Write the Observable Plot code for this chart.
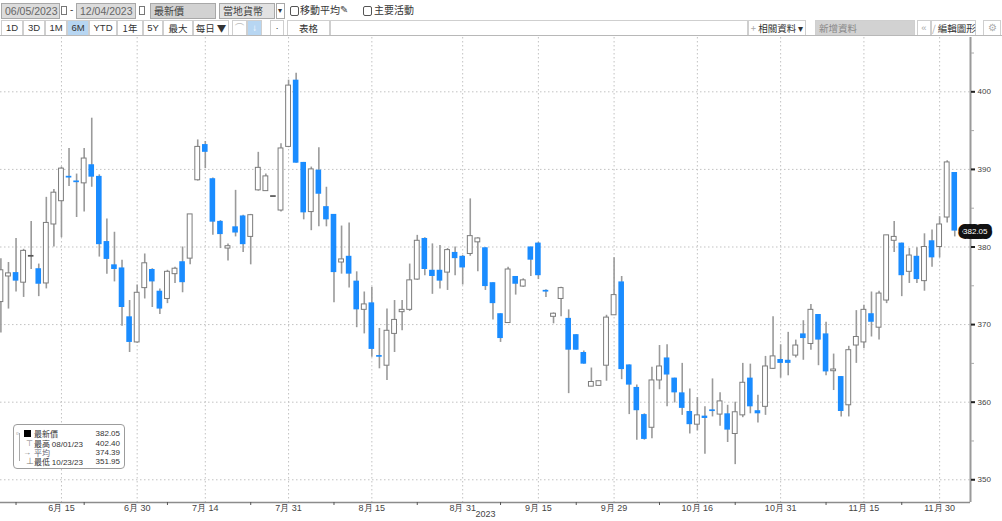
<!DOCTYPE html>
<html><head><meta charset="utf-8">
<script src="https://cdn.jsdelivr.net/npm/d3@7"></script>
<script src="https://cdn.jsdelivr.net/npm/@observablehq/plot@0.6"></script>
<style>
body{margin:0;width:1002px;height:521px;overflow:hidden;background:#fff;position:relative;font-family:"Liberation Sans","Noto Sans CJK TC",sans-serif}
.el{position:absolute;box-sizing:border-box;white-space:nowrap;color:#333;font-size:10px;font-family:"Liberation Sans","Noto Sans CJK TC",sans-serif}
.r1{top:3px;height:16px;line-height:14px}
.box{border:1px solid #a8a8a8;padding-left:3px}
.btn{top:20px;height:16px;line-height:14px;border:1px solid #cfcfcf;text-align:center;background:#fff;font-size:9.5px;color:#333}
.cjk{font-family:"Noto Sans CJK TC",sans-serif}
#chart{position:absolute;left:0;top:37px}
#legend{position:absolute;left:13px;top:424px;width:112px;height:45px;border:1px solid #9c9c9c;border-radius:4px;background:#fff;box-sizing:border-box}
#legend .lr{position:absolute;left:0;width:110px;height:9px;line-height:9px;font-size:8px;color:#333}
#legend .lab{position:absolute;left:20px;font-family:"Noto Sans CJK TC",sans-serif}
#legend .val{position:absolute;right:4px}
#legend .ic{position:absolute;font-size:8px;color:#777}
</style></head>
<body>
<div id="bar">
  <div class="el r1 box" style="left:1px;width:59px;background:#dcdcdc;color:#666;font-size:10.5px">06/05/2023</div>
  <div class="el" style="left:61px;top:6px;width:6px;height:9px;border:1px solid #777"></div>
  <div class="el r1" style="left:70px;color:#444">-</div>
  <div class="el r1 box" style="left:76px;width:60px;background:#dcdcdc;color:#666;font-size:10.5px">12/04/2023</div>
  <div class="el" style="left:139px;top:6px;width:6px;height:9px;border:1px solid #777"></div>
  <div class="el r1 box cjk" style="left:150px;width:66px;background:#d2d2d2;color:#444">最新價</div>
  <div class="el r1 box cjk" style="left:219px;width:56px;background:#e2e2e2;color:#444">當地貨幣</div>
  <div class="el r1 box" style="left:276px;width:9px;padding-left:1px;font-size:8px;color:#333;background:#fff">▾</div>
  <div class="el" style="left:290px;top:6px;width:9px;height:10px;border:1px solid #555;border-radius:2px"></div>
  <div class="el r1 cjk" style="left:300px;color:#333">移動平均</div>
  <div class="el r1" style="left:340px;color:#444;font-family:'DejaVu Sans'">✎</div>
  <div class="el" style="left:363px;top:6px;width:9px;height:10px;border:1px solid #555;border-radius:2px"></div>
  <div class="el r1 cjk" style="left:374px;color:#333">主要活動</div>

  <div class="el btn" style="left:1px;width:22px">1D</div>
  <div class="el btn" style="left:23px;width:22px">3D</div>
  <div class="el btn" style="left:45px;width:22px">1M</div>
  <div class="el btn" style="left:67px;width:22px;background:#b7d6f2">6M</div>
  <div class="el btn" style="left:89px;width:28px">YTD</div>
  <div class="el btn cjk" style="left:117px;width:26px">1年</div>
  <div class="el btn" style="left:143px;width:20px">5Y</div>
  <div class="el btn cjk" style="left:163px;width:30px">最大</div>
  <div class="el btn cjk" style="left:193px;width:36px">每日 ▼</div>
  <div class="el btn" style="left:232px;width:15px;color:#bbb">⌒</div>
  <div class="el btn" style="left:247px;width:15px;background:#b7d6f2;color:#fff">↓</div>
  <div class="el btn" style="left:270px;width:14px">·</div>
  <div class="el btn cjk" style="left:287px;width:43px">表格</div>
  <div class="el btn" style="left:330px;width:418px"></div>
  <div class="el btn cjk" style="left:748px;width:58px"><span style="color:#aaa">+</span> 相關資料 ▾</div>
  <div class="el btn cjk" style="left:815px;width:100px;background:#d2d2d2;color:#888;text-align:left;padding-left:3px">新增資料</div>
  <div class="el btn" style="left:917px;width:14px;color:#aaa">«</div>
  <div class="el btn cjk" style="left:931px;width:45px"><span style="color:#aaa">/</span> 編輯圖形</div>
  <div class="el btn" style="left:983px;width:18px;color:#aaa">⚙</div>
  <div class="el" style="left:0;top:35px;width:1002px;height:1px;background:#b8b8b8"></div>
</div>
<div id="chart"></div>
<div id="legend">
  <div class="el" style="left:5px;top:8px;width:1px;height:28px;background:#aaa"></div>
  <div class="lr" style="top:4px">
    <span class="ic" style="left:2px;top:0">▫</span>
    <span style="position:absolute;left:10px;top:1px;width:7px;height:7px;background:#000"></span>
    <span class="lab" id="lg1"></span><span class="val" id="lv1"></span></div>
  <div class="lr" style="top:13.5px"><span class="ic" style="left:12px">⊤</span>
    <span class="lab" id="lg2"></span><span class="val" id="lv2"></span></div>
  <div class="lr" style="top:22.5px"><span class="ic" style="left:9px">→</span>
    <span class="lab" id="lg3" style="color:#667"></span><span class="val" id="lv3"></span></div>
  <div class="lr" style="top:31.5px"><span class="ic" style="left:12px">⊥</span>
    <span class="lab" id="lg4"></span><span class="val" id="lv4"></span></div>
</div>
<script>
// ---- data ----
const dates = [
 "2023-06-05","2023-06-06","2023-06-07","2023-06-08","2023-06-09","2023-06-12","2023-06-13","2023-06-14","2023-06-15","2023-06-16",
 "2023-06-20","2023-06-21","2023-06-22","2023-06-23","2023-06-26","2023-06-27","2023-06-28","2023-06-29","2023-06-30",
 "2023-07-03","2023-07-05","2023-07-06","2023-07-07","2023-07-10","2023-07-11","2023-07-12","2023-07-13","2023-07-14",
 "2023-07-17","2023-07-18","2023-07-19","2023-07-20","2023-07-21","2023-07-24","2023-07-25","2023-07-26","2023-07-27","2023-07-28","2023-07-31",
 "2023-08-01","2023-08-02","2023-08-03","2023-08-04","2023-08-07","2023-08-08","2023-08-09","2023-08-10","2023-08-11",
 "2023-08-14","2023-08-15","2023-08-16","2023-08-17","2023-08-18","2023-08-21","2023-08-22","2023-08-23","2023-08-24","2023-08-25",
 "2023-08-28","2023-08-29","2023-08-30","2023-08-31",
 "2023-09-01","2023-09-05","2023-09-06","2023-09-07","2023-09-08","2023-09-11","2023-09-12","2023-09-13","2023-09-14","2023-09-15",
 "2023-09-18","2023-09-19","2023-09-20","2023-09-21","2023-09-22","2023-09-25","2023-09-26","2023-09-27","2023-09-28","2023-09-29",
 "2023-10-02","2023-10-03","2023-10-04","2023-10-05","2023-10-06","2023-10-09","2023-10-10","2023-10-11","2023-10-12","2023-10-13",
 "2023-10-16","2023-10-17","2023-10-18","2023-10-19","2023-10-20","2023-10-23","2023-10-24","2023-10-25","2023-10-26","2023-10-27",
 "2023-10-30","2023-10-31",
 "2023-11-01","2023-11-02","2023-11-03","2023-11-06","2023-11-07","2023-11-08","2023-11-09","2023-11-10",
 "2023-11-13","2023-11-14","2023-11-15","2023-11-16","2023-11-17","2023-11-20","2023-11-21","2023-11-22","2023-11-24",
 "2023-11-27","2023-11-28","2023-11-29","2023-11-30","2023-12-01","2023-12-04"];
const open = [372.9,376.2,376.7,375.4,378.8,377.2,375.3,382.9,385.9,389.1,
 388.5,388.2,390.6,389.1,380.7,377.7,377.3,371.0,367.7,
 374.7,377.1,374.3,373.3,376.5,378.1,378.5,388.6,393.2,
 388.8,383.3,379.8,382.6,384.0,381.3,387.3,387.2,386.5,384.7,392.9,
 401.5,390.9,384.5,389.9,385.2,384.2,378.0,378.8,375.6,
 371.9,372.8,366.0,364.7,368.8,371.6,371.9,375.8,381.1,377.0,
 377.0,376.7,379.3,378.8,
 379.1,380.6,379.9,375.4,371.4,370.2,376.2,374.9,380.0,380.5,
 374.4,371.0,373.3,370.8,368.7,366.4,362.0,362.1,364.7,371.2,
 375.5,364.8,361.9,358.4,356.7,362.8,365.7,363.1,361.2,358.8,
 357.1,358.2,359.0,358.4,358.5,355.9,358.3,363.1,358.9,359.4,
 364.3,365.5,
 365.4,366.0,368.8,367.5,371.3,368.8,364.0,363.3,
 359.6,367.3,367.7,371.4,369.6,373.1,380.8,380.5,376.8,
 378.8,375.6,380.8,380.0,383.8,389.6];
const high = [378.5,378.0,381.1,379.7,383.3,377.8,386.4,387.4,390.3,392.7,
 389.4,392.7,396.6,389.3,383.6,381.9,378.3,373.1,375.1,
 379.1,377.2,374.6,377.0,377.4,380.0,384.2,393.8,393.6,
 388.9,383.4,380.4,387.3,384.1,384.2,392.2,389.4,386.5,393.3,401.5,
 402.4,390.9,390.3,392.8,387.7,384.2,382.7,383.1,376.8,
 374.2,374.8,369.5,372.0,373.1,373.1,377.8,381.5,381.2,380.4,
 380.2,379.8,380.0,378.9,
 386.2,381.2,379.9,375.4,371.4,377.4,376.2,375.9,380.0,380.6,
 374.5,371.5,374.8,371.9,368.7,366.6,364.4,362.7,371.2,378.6,
 376.2,364.8,362.2,358.5,364.5,367.3,367.4,363.1,365.0,361.7,
 360.6,359.4,363.0,361.2,359.6,360.0,365.0,364.9,360.9,365.9,
 371.0,367.4,
 369.0,368.0,370.5,372.6,371.3,370.3,366.2,363.3,
 367.2,371.8,372.5,374.2,374.3,381.5,383.3,380.5,379.8,
 379.9,381.7,382.2,383.9,391.1,389.6];
const low = [368.9,372.0,374.2,373.5,377.1,373.6,374.6,380.0,381.2,387.8,
 383.8,384.5,387.7,378.7,376.5,375.5,369.8,366.4,367.6,
 373.3,372.2,371.3,372.7,375.3,374.1,377.7,388.5,390.1,
 381.5,379.8,378.2,381.3,379.3,377.7,387.2,387.2,386.5,384.5,392.8,
 390.8,383.5,382.1,382.6,382.6,372.8,376.5,374.7,369.6,
 368.8,365.8,364.3,362.8,366.4,369.2,371.7,375.7,376.3,373.9,
 374.6,374.4,376.3,375.1,
 378.8,376.8,374.4,370.6,367.7,370.2,373.8,374.8,376.2,375.8,
 373.5,370.1,371.0,361.1,366.7,364.9,362.0,362.1,362.7,371.2,
 362.9,358.4,355.1,355.1,355.3,361.6,359.4,359.9,358.3,355.9,
 356.3,353.3,358.1,356.9,354.8,351.95,358.0,358.5,357.3,358.3,
 364.2,363.1,
 363.4,365.7,365.4,366.7,364.7,363.4,361.5,358.1,
 358.1,365.0,366.9,368.4,368.0,372.7,379.3,373.6,375.3,
 375.3,374.3,377.4,378.6,383.1,381.3];
const close = [377.0,376.6,375.6,379.5,378.8,375.2,383.1,387.0,390.1,388.9,
 388.3,391.4,389.0,380.3,378.4,377.1,372.2,367.7,374.1,
 377.9,375.5,372.0,376.8,377.2,375.4,384.2,392.9,392.2,
 383.2,381.6,380.1,381.8,380.3,384.1,390.2,389.1,386.5,392.7,400.8,
 390.8,384.4,390.0,386.8,383.5,376.7,378.4,376.5,371.9,
 372.6,366.8,365.8,369.2,370.6,371.9,375.7,380.8,377.1,376.2,
 375.6,379.6,378.5,377.3,
 381.4,381.1,374.9,372.7,368.2,377.1,375.2,375.7,378.3,376.3,
 374.2,371.4,374.7,366.7,366.7,364.9,362.6,362.7,370.9,373.8,
 364.2,362.2,358.9,355.2,362.8,364.6,363.5,361.2,359.2,357.1,
 358.3,357.9,358.8,360.1,356.4,358.7,362.5,359.4,358.5,364.6,
 365.9,365.0,
 365.0,367.3,368.2,371.9,368.0,363.9,364.2,358.8,
 366.7,368.4,371.9,370.3,374.0,381.5,381.3,376.3,378.9,
 375.8,380.0,378.6,382.9,390.9,382.05];
const yTicks = [350,360,370,380,390,400];
const yMinorTicks = [355,365,375,385,395,405];
const xTickDates = ["2023-06-15","2023-06-30","2023-07-14","2023-07-31","2023-08-15","2023-08-31",
 "2023-09-15","2023-09-29","2023-10-16","2023-10-31","2023-11-15","2023-11-30"];
const xTickLabels = ["6月 15","6月 30","7月 14","7月 31","8月 15","8月 31","9月 15","9月 29","10月 16","10月 31","11月 15","11月 30"];
const xMinorDates = ["2023-06-07","2023-06-21","2023-07-07","2023-07-24","2023-08-08","2023-08-23",
 "2023-09-08","2023-09-22","2023-10-09","2023-10-23","2023-11-08","2023-11-22"];
const yearLabel = "2023";
const legendLabels = ["最新價","最高","平均","最低"];
const averageValue = 374.39;

// ---- build ----
const rows = dates.map((d,i)=>({i, date:d, open:open[i], high:high[i], low:low[i], close:close[i]}));
const idx = d => dates.indexOf(d);
const xTickIdx = xTickDates.map(idx);
const xMinorIdx = xMinorDates.map(idx);
const labelOf = new Map(xTickIdx.map((v,k)=>[v, xTickLabels[k]]));
const xDom = [-0.053, 128.08];
const yDom = [347.07, 407.0];
const minSpan = 0.22;
const pad = d => Math.max(0, (minSpan - Math.abs(d.open - d.close))/2);
const bTop = d => Math.max(d.open,d.close) + pad(d);
const bBot = d => Math.min(d.open,d.close) - pad(d);
const hw = 0.37;
const up = rows.filter(d=>d.close>d.open);
const down = rows.filter(d=>d.close<d.open);
const flat = rows.filter(d=>d.close===d.open);
const last = rows[rows.length-1];

const chart = Plot.plot({
  width:1002, height:484, marginLeft:0, marginRight:32, marginTop:0, marginBottom:19,
  x:{domain:xDom, axis:null},
  y:{domain:yDom, axis:null},
  style:{fontFamily:"Liberation Sans, sans-serif", fontSize:"9px", color:"#444", background:"transparent", overflow:"visible"},
  marks:[
    Plot.ruleY(yTicks,{stroke:"#c2c2c2", strokeDasharray:"1.5,2.5"}),
    Plot.ruleX(xTickIdx,{stroke:"#c2c2c2", strokeDasharray:"1.5,2.5"}),
    Plot.ruleX(rows,{x:"i", y1:"low", y2:"high", stroke:"#9a9a9a", strokeWidth:1.6}),
    Plot.rect(up,{x1:d=>d.i-hw+0.05, x2:d=>d.i+hw-0.05, y1:bTop, y2:bBot, fill:"#fff", stroke:"#7c7c7c", strokeWidth:1}),
    Plot.rect(down,{x1:d=>d.i-hw, x2:d=>d.i+hw, y1:bTop, y2:bBot, fill:"#1a8cff"}),
    Plot.rect(flat,{x1:d=>d.i-hw, x2:d=>d.i+hw, y1:bTop, y2:bBot, fill:"#555"}),
    Plot.ruleX([xDom[1]],{stroke:"#9a9a9a", strokeWidth:2}),
    Plot.ruleY([yDom[0]],{stroke:"#8c8c8c", strokeWidth:1.5}),
    Plot.axisY({anchor:"right", ticks:yMinorTicks, tickSize:3, text:null, stroke:"#aaa", label:null}),
    Plot.axisY({anchor:"right", ticks:yTicks, tickSize:4, tickPadding:3, fontSize:8, stroke:"#222", strokeWidth:2, fill:"#444", label:null}),
    Plot.axisX({anchor:"bottom", ticks:xMinorIdx, tickSize:3, text:null, stroke:"#555", label:null}),
    Plot.axisX({anchor:"bottom", ticks:xTickIdx, tickSize:0, tickPadding:2, tickFormat:v=>labelOf.get(v), fontSize:9, fill:"#444", label:null}),
    Plot.text([yearLabel],{frameAnchor:"bottom", dy:14, fontSize:9, fill:"#444"}),
    Plot.dot([last],{y:"close", frameAnchor:"right", dx:4, symbol:"triangle", r:3.5, rotate:-90, fill:"#111", stroke:"none"}),
    Plot.text([last],{y:"close", text:d=>d.close.toFixed(2), frameAnchor:"right", dx:17, fontSize:8, fill:"#fff", stroke:"#111", strokeWidth:10, strokeLinejoin:"round", paintOrder:"stroke"})
  ]
});
document.getElementById("chart").appendChild(chart);

// legend
const hi = d3.greatest(rows, d=>d.high), lo = d3.least(rows, d=>d.low);
const fmtD = s => s.slice(5,7)+"/"+s.slice(8,10)+"/"+s.slice(2,4);
document.getElementById("lg1").textContent = legendLabels[0];
document.getElementById("lv1").textContent = last.close.toFixed(2);
document.getElementById("lg2").innerHTML = legendLabels[1] + ' <span style="font-family:Liberation Sans">' + fmtD(hi.date) + '</span>';
document.getElementById("lv2").textContent = hi.high.toFixed(2);
document.getElementById("lg3").textContent = legendLabels[2];
document.getElementById("lv3").textContent = averageValue.toFixed(2);
document.getElementById("lg4").innerHTML = legendLabels[3] + ' <span style="font-family:Liberation Sans">' + fmtD(lo.date) + '</span>';
document.getElementById("lv4").textContent = lo.low.toFixed(2);
</script>
</body></html>
